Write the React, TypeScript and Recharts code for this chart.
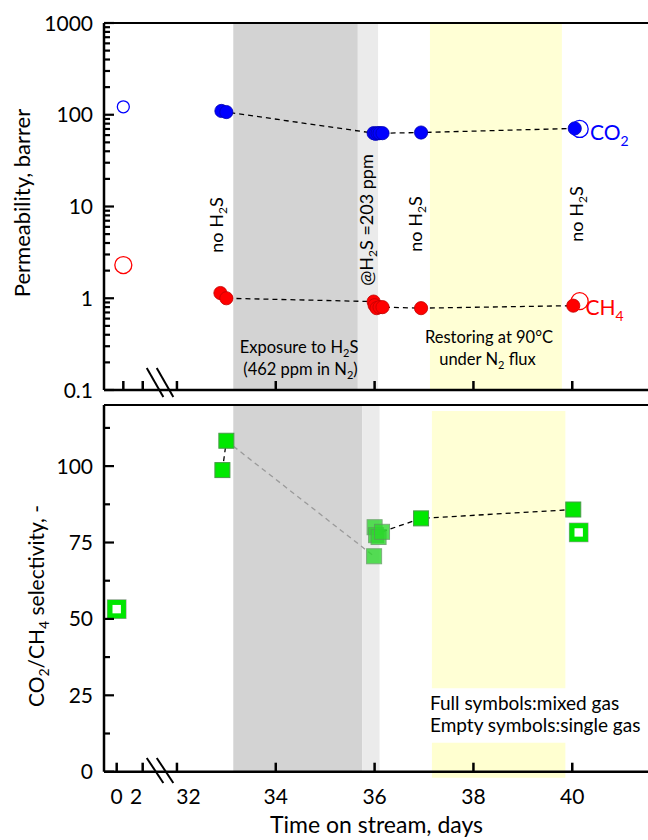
import React from 'react'
import { ScatterChart, Scatter, XAxis, YAxis, ReferenceArea, ReferenceLine } from 'recharts'

const FONT = 'Lato, "Open Sans", sans-serif'

// ---- permeability (top panel), days on stream / barrer ----
const CO2_MIXED_DAYS = [32.9, 33.0, 35.98, 36.02, 36.06, 36.1, 36.16, 36.94, 40.05]
const CO2_MIXED = [110, 107, 63, 62, 63, 63, 63, 64, 71]
const CH4_MIXED_DAYS = [32.88, 33.0, 35.98, 36.0, 36.04, 36.1, 36.16, 36.94, 40.02]
const CH4_MIXED = [1.14, 1.0, 0.92, 0.84, 0.78, 0.8, 0.8, 0.78, 0.83]
const SINGLE_DAYS = [0, 40.15]
const CO2_SINGLE = [122, 70]
const CH4_SINGLE = [2.3, 0.93]

// ---- selectivity (bottom panel) ----
const SEL_START_DAYS = [32.92, 33.0]
const SEL_START = [98.7, 108.3]
const SEL_H2S_DAYS = [35.99, 36.0, 36.03, 36.08, 36.15]
const SEL_H2S = [70.5, 80, 77.4, 76.8, 78.5]
const SEL_AFTER_DAYS = [36.94, 40.02]
const SEL_AFTER = [82.9, 85.8]
const SEL_SINGLE_DAYS = [0, 40.13]
const SEL_SINGLE = [53.2, 78.3]

// ---- periods ----
const TOP_BANDS = { exposure: [33.14, 35.66], dosing: [35.66, 36.07], restore: [37.12, 39.79] }
const BOT_BANDS = { exposure: [33.14, 35.75], dosing: [35.75, 36.1], restore: [37.16, 39.86] }

// ---- ticks ----
const X_TICK_DAYS = [0, 2, 32, 34, 36, 38, 40]
const X_TICK_LABELS = ['0', '2', '32', '34', '36', '38', '40']
const X_LABEL_DX = [0, -6.5, 11.5, 0, 0, 0, 0]
const PERM_DECADES = [0.1, 1, 10, 100, 1000]
const SEL_TICKS = [0, 25, 50, 75, 100]

// broken time axis: days 0-2 squeezed in front of day 32
const topX = (d: number) => (d >= 30 ? d : 30.915 + d * 0.1964)
const botX = (d: number) => (d >= 30 ? d : 30.781 + d * 0.263)
const X_DOMAIN = [30.524, 42.18]

const pts = (days: number[], vals: number[], fx: (d: number) => number) =>
  days.map((d, i) => ({ x: fx(d), y: vals[i] }))

const permTicks: number[] = []
PERM_DECADES.forEach((d, i) => {
  if (i === PERM_DECADES.length - 1) permTicks.push(d)
  else for (let k = 1; k < 10; k++) permTicks.push(+(d * k).toPrecision(3))
})
const selTicks: number[] = []
SEL_TICKS.forEach((t) => {
  selTicks.push(t)
  selTicks.push(t + 12.5)
})

const dashed = { stroke: '#000', strokeWidth: 1.3, strokeDasharray: '5 4' }
const axisLine = { stroke: '#000', strokeWidth: 2.5 }
const none = () => <g />

const disc = (fill: string, stroke: string) => (p: any) => (
  <circle cx={p.cx} cy={p.cy} r={6.6} fill={fill} stroke={stroke} strokeWidth={0.8} />
)
const ring = (stroke: string, r: number | number[]) => (p: any) => {
  const rr = Array.isArray(r) ? r[p.index ?? 0] ?? r[0] : r
  return <circle cx={p.cx} cy={p.cy} r={rr} fill="none" stroke={stroke} strokeWidth={1.3} />
}
const square = (fill: string, stroke: string, opacity = 1) => (p: any) => (
  <rect x={p.cx - 7.5} y={p.cy - 7.5} width={15} height={15} fill={fill} stroke={stroke} strokeWidth={1} opacity={opacity} />
)
const openSquare = (p: any) => (
  <g>
    <rect x={p.cx - 9.8} y={p.cy - 9.8} width={19.6} height={19.6} fill="#9a9a9a" />
    <rect x={p.cx - 9.2} y={p.cy - 9.2} width={18.4} height={18.4} fill="#00e600" />
    <rect x={p.cx - 4.2} y={p.cy - 4.2} width={8.4} height={8.4} fill="#fff" />
  </g>
)

const makeXTick = (ticks: number[], labels: boolean) => (p: any) => {
  const i = ticks.indexOf(p.payload.value)
  return (
    <g>
      <line x1={p.x} x2={p.x} y1={p.y} y2={p.y - 9} stroke="#000" strokeWidth={2.5} />
      {labels && (
        <text x={p.x + (X_LABEL_DX[i] || 0)} y={p.y + 32.5} textAnchor="middle" fontSize={21} fontFamily={FONT} fill="#000">
          {X_TICK_LABELS[i]}
        </text>
      )}
    </g>
  )
}

const makeYTick = (major: (v: number) => boolean, fmt: (v: number) => string) => (p: any) => {
  const v = p.payload.value
  const m = major(v)
  return (
    <g>
      <line x1={p.x} x2={p.x + (m ? 10 : 6)} y1={p.y} y2={p.y} stroke="#000" strokeWidth={2.2} />
      {m && (
        <text x={p.x - 11} y={p.y} dy="0.36em" textAnchor="end" fontSize={21} fontFamily={FONT} fill="#000">
          {fmt(v)}
        </text>
      )}
    </g>
  )
}

const topTicks = X_TICK_DAYS.map(topX)
const botTicks = X_TICK_DAYS.map(botX)

const Sub = ({ c, dy = 4, size = 11 }: { c: string; dy?: number; size?: number }) => (
  <tspan dy={dy} fontSize={size}>{c}</tspan>
)

function Overlay() {
  const vt = (x: number, y: number) => `translate(${x},${y}) rotate(-90)`
  return (
    <svg width={648} height={840} style={{ position: 'absolute', left: 0, top: 0, pointerEvents: 'none' }} fontFamily={FONT}>
      <g fontSize={18} fill="#000" textAnchor="middle">
        <text transform={vt(223, 225)}>no H<Sub c="2" size={12} /><tspan dy={-4}>S</tspan></text>
        <text transform={vt(373, 220)}>@H<Sub c="2" size={12} /><tspan dy={-4}>S =203 ppm</tspan></text>
        <text transform={vt(421.5, 224)}>no H<Sub c="2" size={12} /><tspan dy={-4}>S</tspan></text>
        <text transform={vt(582.5, 214)}>no H<Sub c="2" size={12} /><tspan dy={-4}>S</tspan></text>
      </g>
      <g fontSize={16.5} fill="#000" textAnchor="middle">
        <text x={299} y={353}>Exposure to H<Sub c="2" /><tspan dy={-4}>S</tspan></text>
        <text x={300.5} y={375}>(462 ppm in N<Sub c="2" /><tspan dy={-4}>)</tspan></text>
        <text x={489} y={342.5}>Restoring at 90°C</text>
        <text x={487.5} y={364.5}>under N<Sub c="2" /><tspan dy={-4}> flux</tspan></text>
      </g>
      <text x={590} y={140} fontSize={21} fill="#0000ff">CO<Sub c="2" dy={6} size={14} /></text>
      <text x={585.5} y={315} fontSize={21} fill="#ff0000">CH<Sub c="4" dy={6} size={14} /></text>
      <g fontSize={19} fill="#000">
        <text x={430} y={710}>Full symbols:mixed gas</text>
        <text x={430} y={731.7}>Empty symbols:single gas</text>
      </g>
      <text x={376.5} y={833} fontSize={23} textAnchor="middle" fill="#000">Time on stream, days</text>
      <text transform={vt(30, 203)} fontSize={22} textAnchor="middle" fill="#000">Permeability, barrer</text>
      <text transform={vt(44, 606)} fontSize={21} textAnchor="middle" fill="#000">
        CO<Sub c="2" dy={5} size={14} /><tspan dy={-5}>/CH</tspan><Sub c="4" dy={5} size={14} /><tspan dy={-5}> selectivity, -</tspan>
      </text>
    </svg>
  )
}

export default function App() {
  const co2 = pts(CO2_MIXED_DAYS, CO2_MIXED, topX)
  const ch4 = pts(CH4_MIXED_DAYS, CH4_MIXED, topX)
  const co2s = pts(SINGLE_DAYS, CO2_SINGLE, topX)
  const ch4s = pts(SINGLE_DAYS, CH4_SINGLE, topX)

  const selStart = pts(SEL_START_DAYS, SEL_START, botX)
  const selH2S = pts(SEL_H2S_DAYS, SEL_H2S, botX)
  const selAfter = pts(SEL_AFTER_DAYS, SEL_AFTER, botX)
  const selSingle = pts(SEL_SINGLE_DAYS, SEL_SINGLE, botX)
  const grayLink = [selStart[selStart.length - 1], selH2S[0]]
  const blackLink = [selH2S[selH2S.length - 1], ...selAfter]

  return (
    <div style={{ position: 'absolute', left: 0, top: 0, width: 648, height: 840, overflow: 'hidden', background: '#fff' }}>
      <div style={{ position: 'absolute', left: 0, top: 395 }}>
        <ScatterChart width={680} height={445} margin={{ top: 10, right: 0, bottom: 0, left: 0 }}>
          <ReferenceArea x1={botX(BOT_BANDS.exposure[0])} x2={botX(BOT_BANDS.exposure[1])} fill="#d3d3d3" fillOpacity={1} stroke="none" />
          <ReferenceArea x1={botX(BOT_BANDS.dosing[0])} x2={botX(BOT_BANDS.dosing[1])} fill="#ebebeb" fillOpacity={1} stroke="none" />
          <ReferenceArea x1={botX(BOT_BANDS.restore[0])} x2={botX(BOT_BANDS.restore[1])} y1={27.3} y2={118} fill="#ffffd5" fillOpacity={1} stroke="none" />
          <ReferenceArea x1={botX(BOT_BANDS.restore[0])} x2={botX(BOT_BANDS.restore[1])} y1={-2} y2={9.5} fill="#ffffc8" fillOpacity={0.85} stroke="none" ifOverflow="visible" />
          <XAxis type="number" dataKey="x" domain={X_DOMAIN} allowDataOverflow ticks={botTicks} interval={0}
            tick={makeXTick(botTicks, true)} tickLine={false} tickSize={0} tickMargin={0} axisLine={axisLine} height={68.3} />
          <YAxis type="number" dataKey="y" domain={[0, 120]} allowDataOverflow ticks={selTicks} interval={0}
            width={104} tick={makeYTick((v) => v % 25 === 0, (v) => String(v))}
            tickLine={false} tickSize={0} tickMargin={0} axisLine={axisLine} />
          <ReferenceLine y={120} stroke="#000" strokeWidth={2} />
          <ReferenceLine segment={[{ x: 31.389, y: 4.5 }, { x: 31.725, y: -3.7 }]} stroke="#000" strokeWidth={2} ifOverflow="visible" />
          <ReferenceLine segment={[{ x: 31.591, y: 4.5 }, { x: 31.927, y: -3.7 }]} stroke="#000" strokeWidth={2} ifOverflow="visible" />
          <Scatter data={grayLink} line={{ stroke: '#9a9a9a', strokeWidth: 1.3, strokeDasharray: '5 4' }} lineType="joint" shape={none} isAnimationActive={false} />
          <Scatter data={blackLink} line={dashed} lineType="joint" shape={none} isAnimationActive={false} />
          <Scatter data={selStart} line={dashed} lineType="joint" shape={square('#00e800', '#4a9a4a')} isAnimationActive={false} />
          <Scatter data={selH2S} shape={square('#2ed82e', '#5a9a5a', 0.8)} isAnimationActive={false} />
          <Scatter data={selAfter} shape={square('#00e800', '#4a9a4a')} isAnimationActive={false} />
          <Scatter data={selSingle} shape={openSquare} isAnimationActive={false} />
        </ScatterChart>
      </div>
      <div style={{ position: 'absolute', left: 0, top: 0 }}>
        <ScatterChart width={680} height={410} margin={{ top: 23, right: 0, bottom: 10, left: 0 }}>
          <ReferenceArea x1={topX(TOP_BANDS.exposure[0])} x2={topX(TOP_BANDS.exposure[1])} fill="#d3d3d3" fillOpacity={1} stroke="none" />
          <ReferenceArea x1={topX(TOP_BANDS.dosing[0])} x2={topX(TOP_BANDS.dosing[1])} fill="#ebebeb" fillOpacity={1} stroke="none" />
          <ReferenceArea x1={topX(TOP_BANDS.restore[0])} x2={topX(TOP_BANDS.restore[1])} fill="#ffffd5" fillOpacity={1} stroke="none" />
          <XAxis type="number" dataKey="x" domain={X_DOMAIN} allowDataOverflow ticks={topTicks} interval={0}
            tick={makeXTick(topTicks, false)} tickLine={false} tickSize={0} tickMargin={0} axisLine={axisLine} height={10} />
          <YAxis type="number" dataKey="y" scale="log" domain={[0.1, 1000]} allowDataOverflow ticks={permTicks} interval={0}
            width={104} tick={makeYTick((v) => PERM_DECADES.includes(v), (v) => String(v))}
            tickLine={false} tickSize={0} tickMargin={0} axisLine={axisLine} />
          <ReferenceLine y={1000} stroke="#000" strokeWidth={2} />
          <ReferenceLine segment={[{ x: 31.389, y: 0.1735 }, { x: 31.725, y: 0.0839 }]} stroke="#000" strokeWidth={2} ifOverflow="visible" />
          <ReferenceLine segment={[{ x: 31.591, y: 0.1735 }, { x: 31.927, y: 0.0839 }]} stroke="#000" strokeWidth={2} ifOverflow="visible" />
          <Scatter data={co2} line={dashed} lineType="joint" shape={disc('#0000ff', '#0000b0')} isAnimationActive={false} />
          <Scatter data={ch4} line={dashed} lineType="joint" shape={disc('#ff0000', '#c00000')} isAnimationActive={false} />
          <Scatter data={co2s} shape={ring('#0000ff', [6, 8.5])} isAnimationActive={false} />
          <Scatter data={ch4s} shape={ring('#ff0000', 8.5)} isAnimationActive={false} />
        </ScatterChart>
      </div>
      <Overlay />
    </div>
  )
}
